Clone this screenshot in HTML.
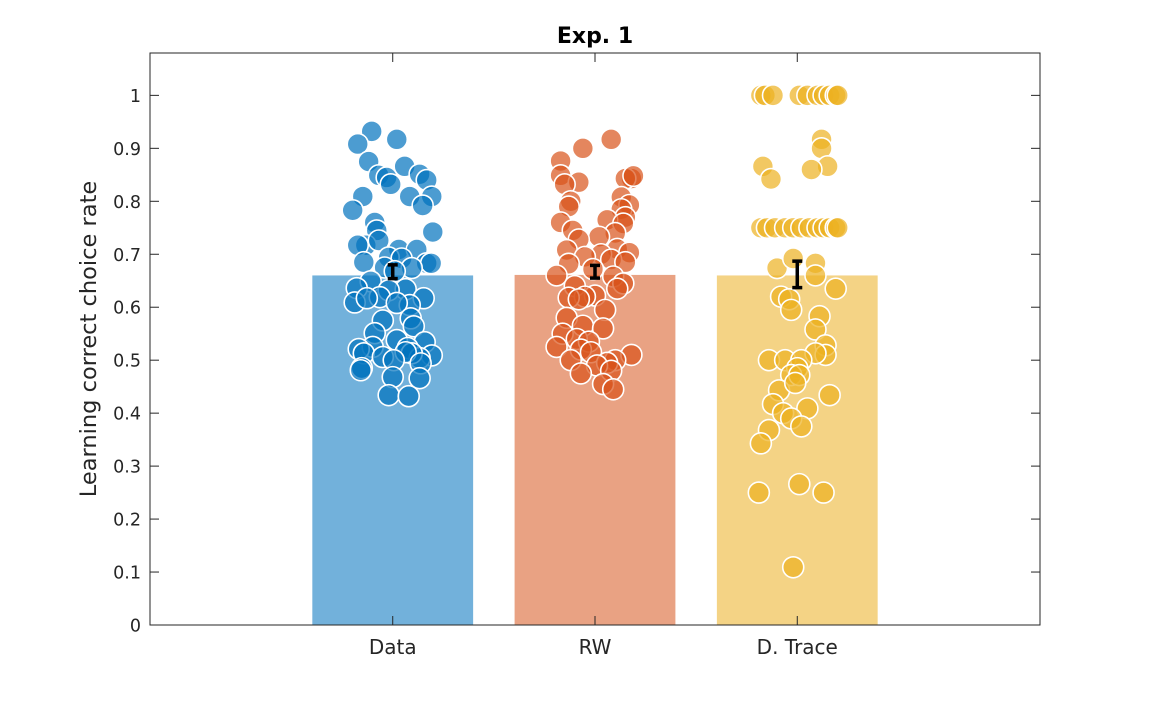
<!DOCTYPE html>
<html><head><meta charset="utf-8"><style>
body{margin:0;background:#fff;}
svg text{font-family:"DejaVu Sans","Liberation Sans",sans-serif;fill:#262626;}
</style></head><body>
<svg id="chart" width="1150" height="702" xmlns="http://www.w3.org/2000/svg">
<rect x="0" y="0" width="1150" height="702" fill="#fff"/>
</svg>
<script>
const categories = ["Data","RW","D. Trace"];
const barValues = [0.66,0.661,0.66];
const errValues = [0.013,0.012,0.025];
const meanValues = [0.667,0.667,0.662];
const yTicks = [0,0.1,0.2,0.3,0.4,0.5,0.6,0.7,0.8,0.9,1];
const tickLabels = ["0","0.1","0.2","0.3","0.4","0.5","0.6","0.7","0.8","0.9","1"];
const dataY = [0.932,0.908,0.917,0.875,0.866,0.849,0.845,0.851,0.840,0.832,0.809,0.809,0.809,0.792,0.783,0.760,0.745,0.717,0.742,0.717,0.726,0.709,0.709,0.694,0.692,0.685,0.675,0.683,0.683,0.674,0.668,0.649,0.636,0.634,0.632,0.619,0.609,0.617,0.617,0.604,0.608,0.575,0.579,0.564,0.551,0.538,0.534,0.525,0.521,0.523,0.513,0.509,0.506,0.504,0.513,0.515,0.500,0.494,0.485,0.481,0.468,0.466,0.434,0.432];
const dataX = [-0.104,-0.173,0.020,-0.119,0.059,-0.069,-0.030,0.133,0.168,-0.010,-0.148,0.193,0.084,0.148,-0.198,-0.089,-0.079,-0.133,0.198,-0.173,-0.069,0.030,0.119,-0.020,0.044,-0.143,-0.040,0.168,0.190,0.094,0.010,-0.109,-0.178,0.064,-0.020,-0.064,-0.188,0.153,-0.128,0.084,0.020,-0.049,0.089,0.104,-0.089,0.020,0.158,-0.099,-0.168,0.074,-0.143,0.193,-0.049,0.133,0.094,0.064,0.005,0.138,-0.153,-0.158,0.000,0.133,-0.020,0.079];
const rwY = [0.917,0.900,0.876,0.849,0.843,0.836,0.832,0.843,0.848,0.808,0.800,0.793,0.790,0.785,0.770,0.765,0.760,0.758,0.745,0.740,0.733,0.728,0.710,0.708,0.703,0.700,0.695,0.690,0.685,0.682,0.672,0.660,0.658,0.645,0.640,0.635,0.622,0.620,0.618,0.615,0.595,0.580,0.565,0.560,0.550,0.540,0.535,0.525,0.520,0.515,0.510,0.500,0.500,0.495,0.490,0.480,0.475,0.455,0.445];
const rwX = [0.08,-0.06,-0.17,-0.17,0.18,-0.08,-0.15,0.15,0.19,0.13,-0.12,0.17,-0.13,0.13,0.15,0.06,-0.17,0.14,-0.11,0.10,0.02,-0.08,0.11,-0.14,0.17,0.03,-0.05,0.08,0.15,-0.13,-0.01,-0.19,0.09,0.14,-0.10,0.11,0.00,-0.05,-0.13,-0.08,0.05,-0.14,-0.06,0.04,-0.16,-0.09,-0.03,-0.19,-0.07,-0.02,0.18,-0.12,0.10,0.06,0.01,0.08,-0.07,0.04,0.09];
const dtY = [1,1,1,1,1,1,1,1,1,1,0.917,0.900,0.866,0.866,0.860,0.842,0.75,0.75,0.75,0.75,0.75,0.75,0.75,0.75,0.75,0.75,0.75,0.75,0.674,0.683,0.692,0.660,0.635,0.620,0.615,0.595,0.583,0.558,0.528,0.510,0.513,0.500,0.500,0.500,0.485,0.472,0.472,0.443,0.457,0.417,0.409,0.400,0.390,0.368,0.375,0.434,0.343,0.250,0.266,0.250,0.109];
const dtX = [-0.18,-0.16,-0.12,0.01,0.05,0.10,0.13,0.16,0.19,0.20,0.12,0.12,-0.17,0.15,0.07,-0.13,-0.18,-0.15,-0.11,-0.06,-0.02,0.02,0.06,0.10,0.13,0.16,0.19,0.20,-0.10,0.09,-0.02,0.09,0.19,-0.08,-0.04,-0.03,0.11,0.09,0.14,0.14,0.09,-0.14,-0.06,0.02,0.00,-0.03,0.01,-0.09,-0.01,-0.12,0.05,-0.07,-0.03,-0.14,0.02,0.16,-0.18,-0.19,0.01,0.13,-0.02];
const colors = ["#0072BD","#D95319","#EDB120"];
const barColors = ["#72B1DB","#E9A283","#F4D385"];

const NS="http://www.w3.org/2000/svg";
const svg=document.getElementById('chart');
const L=150,R=1040,T=53,B=625;
const xMin=-0.2,xMax=4.2,yMin=0,yMax=1.08;
function xs(v){return L+(v-xMin)/(xMax-xMin)*(R-L);}
function ys(v){return B-(v-yMin)/(yMax-yMin)*(B-T);}
function mk(tag,attrs,parent){const e=document.createElementNS(NS,tag);for(const k in attrs)e.setAttribute(k,attrs[k]);(parent||svg).appendChild(e);return e;}

const plotG=mk('g',{});


const bw=0.795;
categories.forEach((c,i)=>{
  const x0=xs(i+1-bw/2), x1=xs(i+1+bw/2);
  const r=mk('rect',{x:x0,y:ys(barValues[i]),width:x1-x0,height:ys(0)-ys(barValues[i]),fill:barColors[i]},plotG);
  
  
});
function scatter(xa,ya,ci,name){
  const g=mk('g',{},plotG);
  
  
  ya.forEach((v,k)=>{
    const c=mk('circle',{cx:xs(ci+1+xa[k]),cy:ys(v),r:10.5,fill:colors[ci],'fill-opacity':0.7,stroke:'#fff','stroke-width':1.6},g);
    
    
  });
}
scatter(dataX,dataY,0,'data');
scatter(rwX,rwY,1,'rw');
scatter(dtX,dtY,2,'d-trace');
categories.forEach((c,i)=>{
  const cx=xs(i+1), y0=ys(meanValues[i]-errValues[i]), y1=ys(meanValues[i]+errValues[i]);
  const g=mk('g',{stroke:'#000','stroke-width':3.5},plotG);
  
  
  mk('line',{x1:cx,x2:cx,y1:y0,y2:y1},g);
  mk('line',{x1:cx-5,x2:cx+5,y1:y0,y2:y0},g);
  mk('line',{x1:cx-5,x2:cx+5,y1:y1,y2:y1},g);
});
const box=mk('rect',{x:L,y:T,width:R-L,height:B-T,fill:'none',stroke:'#262626','stroke-width':1});


yTicks.forEach((t,i)=>{
  const y=ys(t);
  mk('line',{x1:L,x2:L+9,y1:y,y2:y,stroke:'#262626'});
  mk('line',{x1:R,x2:R-9,y1:y,y2:y,stroke:'#262626'});
  const tx=mk('text',{x:L-9,y:y+6.5,'text-anchor':'end','font-size':17.5});
  tx.textContent=tickLabels[i];
  
  
});
categories.forEach((c,i)=>{
  const x=xs(i+1);
  mk('line',{x1:x,x2:x,y1:B,y2:B-9,stroke:'#262626'});
  mk('line',{x1:x,x2:x,y1:T,y2:T+9,stroke:'#262626'});
  const tx=mk('text',{x:x,y:B+29,'text-anchor':'middle','font-size':20});
  tx.textContent=c;
  
  
});
const title=mk('text',{x:595,y:43,'text-anchor':'middle','font-size':22,'font-weight':'bold'});
title.textContent='Exp. 1';
title.style.fill='#000';


const yl=mk('text',{x:0,y:0,'text-anchor':'middle','font-size':22.5,transform:'translate(96,339) rotate(-90)'});
yl.textContent='Learning correct choice rate';


</script>
</body></html>
